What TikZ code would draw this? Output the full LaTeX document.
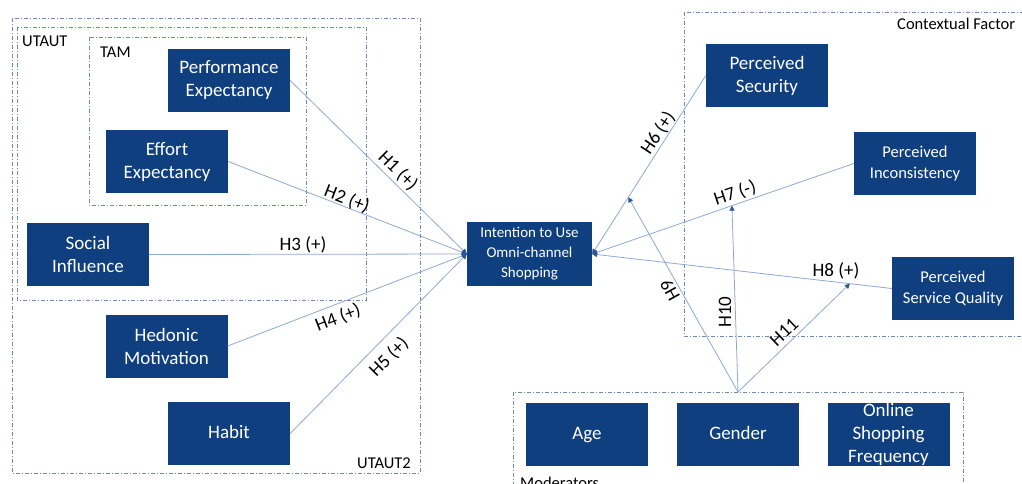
\documentclass[tikz,border=0pt]{standalone}
\usepackage{fontspec}
\setmainfont{Carlito}
\usetikzlibrary{arrows.meta}
\definecolor{boxblue}{HTML}{0F3F7F}
\definecolor{linkblue}{HTML}{8EA9D2}
\definecolor{tipblue}{HTML}{2B5597}
\definecolor{framecol}{HTML}{7289AF}
\begin{document}
\begin{tikzpicture}[x=1pt,y=-1pt,
  box/.style={fill=boxblue, text=white, align=center, inner sep=0pt,
    minimum width=122pt, minimum height=63pt, font=\fontsize{19}{23}\selectfont},
  onebox/.style={box, text height=13.5pt, text depth=4pt},
  smallbox/.style={box, font=\fontsize{16.5}{21}\selectfont},
  intbox/.style={box, minimum width=125pt, minimum height=64pt, font=\fontsize{15}{20}\selectfont},
  frame/.style={draw=framecol, line width=0.8pt, dash pattern=on 4pt off 2pt on 1pt off 2pt},
  grouplbl/.style={font=\fontsize{16.5}{20}\selectfont, text=black, inner sep=0pt},
  link/.style={draw=linkblue, line width=0.8pt, -{Triangle[length=5pt,width=5pt,color=tipblue]}},
  hlbl/.style={font=\fontsize{19}{22}\selectfont, text=black, inner sep=0pt}
]
\useasboundingbox (0,0) rectangle (1022,483);
\fill[white] (0,0) rectangle (1022,483);

% group frames
\draw[frame] (12,18) rectangle (420,473);
\draw[frame] (17,27) rectangle (366,300);
\draw[frame] (89,37) rectangle (306,205);
\draw[frame] (684,12) rectangle (1034,336);
\draw[frame] (513,392) rectangle (963,500);

\node[grouplbl, anchor=base west] (lutaut) at (22,46) {UTAUT};
\node[grouplbl, anchor=base west] (ltam) at (100,57) {TAM};
\node[grouplbl, anchor=base east] (lutaut2) at (411,468) {UTAUT2};
\node[grouplbl, anchor=base west] (lctx) at (897,29) {Contextual Factor};
\node[grouplbl, anchor=base west] (lmod) at (520,488) {Moderators};

% construct boxes
\node[box] (pe) at (229,80.5) {Performance\\Expectancy};
\node[box] (ee) at (167,161.5) {Effort\\Expectancy};
\node[box] (si) at (88,254.5) {Social\\Influence};
\node[box] (hm) at (166.5,346) {Hedonic\\Motivation};
\node[onebox] (hab) at (229,433.5) {Habit};
\node[intbox] (int) at (529.5,254) {Intention to Use\\Omni-channel\\Shopping};
\node[box] (ps) at (767,75.5) {Perceived\\Security};
\node[smallbox] (pi) at (915,163.5) {Perceived\\Inconsistency};
\node[smallbox] (psq) at (953,288.5) {Perceived\\Service Quality};
\node[onebox] (age) at (587,434.5) {Age};
\node[onebox] (gen) at (738,434.5) {Gender};
\node[box] (osf) at (888.5,434.5) {Online\\Shopping\\Frequency};

% hypotheses
\draw[link] (pe.east) -- (int.west);
\draw[link] (ee.east) -- (int.west);
\draw[link] (si.east) -- (int.west);
\draw[link] (hm.east) -- (int.west);
\draw[link] (hab.east) -- (int.west);
\draw[link] (ps.west) -- coordinate[pos=0.682] (m6) (int.east);
\draw[link] (pi.west) -- coordinate[pos=0.466] (m7) (int.east);
\draw[link] (psq.west) -- coordinate[pos=0.14] (m8) (int.east);

% moderation
\coordinate (gsrc) at (738,392);
\draw[link] (gsrc) -- (m6);
\draw[link] (gsrc) -- (m7);
\draw[link] (gsrc) -- (m8);

% labels
\node[hlbl, rotate=-44.5] (h1) at (398,171) {H1 (+)};
\node[hlbl, rotate=-21] (h2) at (347,199) {H2 (+)};
\node[hlbl] (h3) at (303,245) {H3 (+)};
\node[hlbl, rotate=21] (h4) at (338,318) {H4 (+)};
\node[hlbl, rotate=45] (h5) at (389,357) {H5 (+)};
\node[hlbl, rotate=56.5] (h6) at (658,133) {H6 (+)};
\node[hlbl, rotate=18.4] (h7) at (735,193) {H7 (-)};
\node[hlbl] (h8) at (836,271) {H8 (+)};
\node[hlbl, rotate=119] (h9) at (670,290) {H9};
\node[hlbl, rotate=90] (h10) at (725,312) {H10};
\node[hlbl, rotate=43.5] (h11) at (784,332) {H11};
\end{tikzpicture}
\end{document}
